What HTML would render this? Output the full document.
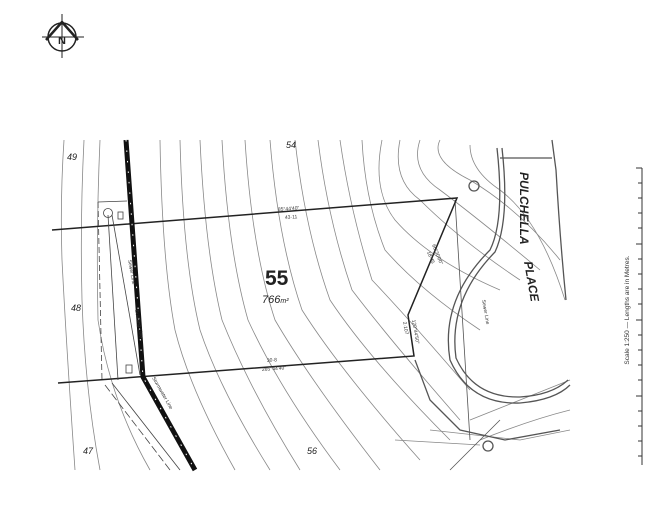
<!DOCTYPE html>
<html><head><meta charset="utf-8"><style>
html,body{margin:0;padding:0;background:#fff;}
svg{display:block;font-family:"Liberation Sans",sans-serif;}
</style></head><body>
<svg width="654" height="510" viewBox="0 0 654 510" xmlns="http://www.w3.org/2000/svg">
<rect width="654" height="510" fill="#fff"/>
<g stroke="#222" fill="none">
<circle cx="62" cy="37" r="14" stroke-width="1.5"/>
<line x1="42" y1="37" x2="84" y2="37" stroke-width="1"/>
<line x1="62" y1="14" x2="62" y2="58" stroke-width="1"/>
<path d="M46 40 L62 22 L78 40" stroke-width="2.5"/>
</g>
<text x="62" y="44" font-size="11" font-weight="bold" text-anchor="middle" fill="#222">N</text>
<g stroke="#888" stroke-width="0.8" fill="none">
<path d="M64 140 Q60 200 62 260 Q66 340 75 470"/>
<path d="M84 140 Q80 220 82 300 Q85 390 100 470"/>
<path d="M100 140 Q96 230 98 320 Q110 400 150 470"/>
<path d="M160 140 Q162 260 175 330 Q190 390 235 470"/>
<path d="M180 140 Q183 260 200 330 Q220 390 270 470"/>
<path d="M200 140 Q205 250 222 320 Q250 390 300 470"/>
<path d="M222 140 Q228 250 248 320 Q280 390 340 470"/>
<path d="M245 140 Q252 250 275 320 Q310 380 380 470"/>
<path d="M270 140 Q278 240 302 310 Q340 370 420 460"/>
<path d="M295 140 Q305 230 330 300 Q370 360 450 440"/>
<path d="M318 140 Q328 220 352 290 Q390 340 460 420"/>
<path d="M340 140 Q350 210 372 280 Q410 320 470 390"/>
<path d="M362 140 Q365 200 385 250 Q420 290 480 330"/>
<path d="M382 140 Q372 190 395 220 Q430 260 500 290"/>
<path d="M400 140 Q392 180 420 200 Q460 240 520 280"/>
<path d="M420 140 Q410 170 440 190 Q480 220 540 270"/>
<path d="M440 140 Q430 160 470 180 Q520 210 560 260"/>
<path d="M470 145 Q470 170 500 190 Q540 220 565 300"/>
<path d="M470 420 Q520 400 570 380"/>
<path d="M480 440 Q530 420 570 410"/>
<path d="M430 430 L520 440 L570 430"/>
<path d="M395 440 L480 445"/>
</g>
<g stroke="#555" fill="none" stroke-width="1.3">
<path d="M497 148 Q505 220 490 250 Q440 300 450 360 Q470 405 520 403 Q555 400 570 385"/>
<path d="M502 148 Q510 220 495 252 Q448 300 456 358 Q474 398 520 397 Q552 395 568 380"/>
<path d="M552 140 L556 170 Q560 240 566 300"/>
<path d="M500 158 L552 158"/>
<path d="M415 360 L430 400 L460 430 L505 440 L560 430"/>
<path d="M455 200 L470 440" stroke-width="0.8"/>
<path d="M450 470 L500 420" stroke-width="0.8"/>
<circle cx="474" cy="186" r="5"/>
<circle cx="488" cy="446" r="5"/>
</g>
<g stroke="#222" stroke-width="1.5" fill="none">
<path d="M52 230 L457 198 L408 315 L414 356 L58 383"/>
</g>
<g stroke="#444" stroke-width="0.8" fill="none">
<path d="M98 202 L127 201"/>
<path d="M98 202 L102 380" stroke-dasharray="6,3"/>
<path d="M108 215 L118 380"/>
<path d="M112 215 L140 375"/>
<circle cx="108" cy="213" r="4.5"/>
<rect x="118" y="212" width="5" height="7"/>
<rect x="126" y="365" width="6" height="8"/>
<path d="M105 385 L170 470" stroke-dasharray="8,3"/>
<path d="M112 383 L180 470"/>
</g>
<path d="M126 140 L143 377 L195 470" stroke="#111" stroke-width="5" fill="none"/>
<path d="M126 140 L143 377 L195 470" stroke="#fff" stroke-width="1" fill="none" stroke-dasharray="1.5,9"/>
<g fill="#222" font-style="italic" font-size="9">
<text x="67" y="160">49</text>
<text x="286" y="148">54</text>
<text x="71" y="311">48</text>
<text x="83" y="454">47</text>
<text x="307" y="454">56</text>
</g>
<text x="265" y="285" font-size="21" font-weight="bold" fill="#222">55</text>
<text x="262" y="303" font-size="11" font-style="italic" fill="#222">766<tspan font-size="7">m²</tspan></text>
<g fill="#333" font-size="5">
<text x="278" y="211" transform="rotate(-4 278 211)">85°44'40"</text>
<text x="285" y="219" transform="rotate(-4 285 219)">43·11</text>
<text x="267" y="362" transform="rotate(-4 267 362)">30·8</text>
<text x="262" y="371" transform="rotate(-4 262 371)">265°44'40"</text>
<text x="432" y="245" transform="rotate(68 432 245)">66°30'00"</text>
<text x="427" y="252" transform="rotate(68 427 252)">18·45</text>
<text x="412" y="320" transform="rotate(80 412 320)">120°44'50"</text>
<text x="403" y="322" transform="rotate(80 403 322)">2·107</text>
<text x="128" y="260" transform="rotate(80 128 260)">Sewer Line</text>
<text x="135" y="310" transform="rotate(80 135 310)">Building Line</text>
<text x="152" y="378" transform="rotate(60 152 378)">Stormwater Line</text>
<text x="482" y="300" transform="rotate(80 482 300)">Sewer Line</text>
</g>
<g fill="#222" font-size="12" font-weight="bold" font-style="italic">
<text x="520" y="172" transform="rotate(90 520 172)">PULCHELLA</text>
<text x="524" y="262" transform="rotate(80 524 262)">PLACE</text>
</g>
<g stroke="#333" stroke-width="1">
<line x1="642" y1="168" x2="642" y2="465"/>
<line x1="636" y1="168" x2="642" y2="168"/>
<line x1="638" y1="183" x2="642" y2="183"/><line x1="638" y1="198" x2="642" y2="198"/>
<line x1="638" y1="213" x2="642" y2="213"/><line x1="638" y1="228" x2="642" y2="228"/>
<line x1="636" y1="244" x2="642" y2="244"/>
<line x1="638" y1="259" x2="642" y2="259"/><line x1="638" y1="274" x2="642" y2="274"/>
<line x1="638" y1="289" x2="642" y2="289"/><line x1="638" y1="304" x2="642" y2="304"/>
<line x1="636" y1="320" x2="642" y2="320"/>
<line x1="638" y1="335" x2="642" y2="335"/><line x1="638" y1="350" x2="642" y2="350"/>
<line x1="638" y1="365" x2="642" y2="365"/><line x1="638" y1="380" x2="642" y2="380"/>
<line x1="636" y1="396" x2="642" y2="396"/>
<line x1="638" y1="411" x2="642" y2="411"/><line x1="638" y1="426" x2="642" y2="426"/>
<line x1="638" y1="441" x2="642" y2="441"/><line x1="638" y1="456" x2="642" y2="456"/>
</g>
<text x="629" y="310" font-size="6.5" fill="#333" text-anchor="middle" transform="rotate(-90 629 310)">Scale 1:250 — Lengths are in Metres.</text>
</svg>
</body></html>
